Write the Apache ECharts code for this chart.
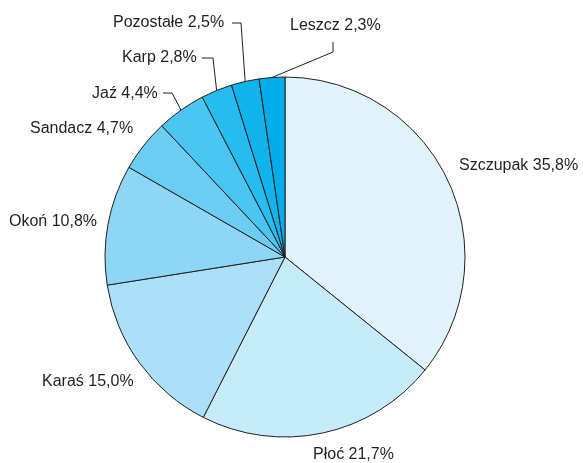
<!DOCTYPE html>
<html>
<head>
<meta charset="utf-8">
<style>
  html, body { margin: 0; padding: 0; background: #ffffff; }
  #chart { width: 583px; height: 463px; }
</style>
<script src="https://cdn.jsdelivr.net/npm/echarts@6/dist/echarts.min.js"></script>
</head>
<body>
<div id="chart"></div>
<script>
// Species share of the catch, clockwise from 12 o'clock
const species = ['Szczupak', 'Płoć', 'Karaś', 'Okoń', 'Sandacz', 'Jaź', 'Karp', 'Pozostałe', 'Leszcz'];
const shares = [35.8, 21.7, 15.0, 10.8, 4.7, 4.4, 2.8, 2.5, 2.3];
const sliceColors = ['#e0f3fb', '#c6ebfa', '#abe0f8', '#8ed6f5', '#6ccdf3', '#48c5f1', '#26bcef', '#10b4ec', '#00adea'];

// Label anchors (left edge, vertical middle) and the elbow of the leader lines
const labelSpots = [
  { x: 459, y: 166 },
  { x: 313, y: 455 },
  { x: 42,  y: 382 },
  { x: 9,   y: 222 },
  { x: 30,  y: 129 },
  { x: 92,  y: 94,  line: [[163, 93], [172, 93]] },
  { x: 122, y: 58,  line: [[202, 58], [213, 58]] },
  { x: 113, y: 23,  line: [[232, 23], [241, 23]] },
  { x: 290, y: 26,  line: [[333, 42], [333, 52]] }
];

const fmt = v => v.toFixed(1).replace('.', ',') + '%';

const chart = echarts.init(document.getElementById('chart'), null, { renderer: 'canvas' });

chart.setOption({
  animation: false,
  backgroundColor: '#ffffff',
  series: [{
    type: 'pie',
    center: [285, 257],
    radius: [0, 180],
    startAngle: 90,
    clockwise: true,
    avoidLabelOverlap: false,
    itemStyle: { borderColor: '#231f20', borderWidth: 1 },
    label: {
      show: true,
      position: 'outside',
      color: '#231f20',
      fontFamily: '"Liberation Sans", Arial, sans-serif',
      fontSize: 16,
      formatter: p => p.name + ' ' + fmt(p.value)
    },
    labelLine: { show: false, lineStyle: { color: '#231f20', width: 1 } },
    labelLayout: function (params) {
      const s = labelSpots[params.dataIndex];
      const out = { x: s.x, y: s.y, align: 'left', verticalAlign: 'middle' };
      if (s.line && params.labelLinePoints) {
        out.labelLinePoints = [s.line[0], s.line[1], params.labelLinePoints[0]];
      }
      return out;
    },
    data: species.map((name, i) => ({
      name: name,
      value: shares[i],
      itemStyle: { color: sliceColors[i] },
      labelLine: { show: !!labelSpots[i].line }
    }))
  }]
});
</script>
</body>
</html>
